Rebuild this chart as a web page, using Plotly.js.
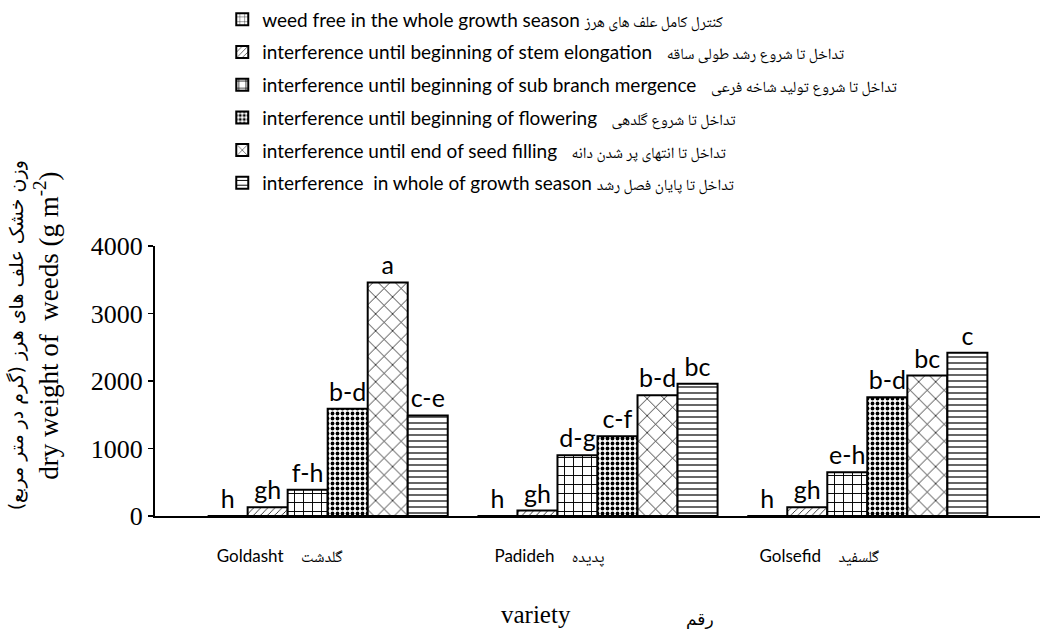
<!DOCTYPE html>
<html>
<head>
<meta charset="utf-8">
<script src="https://cdn.plot.ly/plotly-3.0.1.min.js"></script>
<style>html,body{margin:0;padding:0;background:#fff;}#chart{width:1056px;height:639px;}</style>
</head>
<body>
<div id="chart"></div>
<script>
const FA = (s, px) => '<span style="font-family:\'Noto Naskh Arabic\',\'Noto Sans Arabic\',\'DejaVu Sans Condensed\',\'DejaVu Sans\',sans-serif;font-size:' + px + 'px">' + s + '</span>';

const varietiesEn = ["Goldasht", "Padideh", "Golsefid"];
const varietiesFa = ["گلدشت", "پدیده", "گلسفید"];
const seriesEn = [
  "weed free in the whole growth season",
  "interference until beginning of stem elongation",
  "interference until beginning of sub branch mergence",
  "interference until beginning of flowering",
  "interference until end of seed filling",
  "interference  in whole of growth season"
];
const seriesFa = [
  "کنترل کامل علف های هرز",
  "تداخل تا شروع رشد طولی ساقه",
  "تداخل تا شروع تولید شاخه فرعی",
  "تداخل تا شروع گلدهی",
  "تداخل تا انتهای پر شدن دانه",
  "تداخل تا پایان فصل رشد"
];
const weedFree      = [0, 0, 0];
const stemElong     = [130, 80, 130];
const subBranch     = [390, 900, 650];
const flowering     = [1590, 1180, 1760];
const seedFilling   = [3460, 1790, 2080];
const wholeSeason   = [1490, 1960, 2420];
const letters = [
  ["h", "h", "h"],
  ["gh", "gh", "gh"],
  ["f-h", "d-g", "e-h"],
  ["b-d", "c-f", "b-d"],
  ["a", "b-d", "bc"],
  ["c-e", "bc", "c"]
];
const yTicks = [0, 1000, 2000, 3000, 4000];
const yTitleFa = "(وزن خشک علف های هرز (گرم در متر مربع";
const yTitleEn = "dry weight of  weeds (g m<sup>-2</sup>)";
const xTitleEn = "variety";
const xTitleFa = "رقم";

const varieties = varietiesEn.map((e, i) => e + "\u00a0\u00a0\u00a0\u00a0" + FA(varietiesFa[i], 16));
const seriesNames = seriesEn.map((e, i) => e + (i === 0 || i === 5 ? " " : "\u00a0\u00a0\u00a0") + FA(seriesFa[i], 15.5));

const values = [weedFree, stemElong, subBranch, flowering, seedFilling, wholeSeason];
const shapes = ["+", "/", "+", ".", "x", "-"];
const sizes = [6, 5, 9, 5, 12, 6];
const solids = [0.15, 0.15, 0.2, 0.45, 0.12, 0.2];

const traces = values.map((v, i) => ({
  type: "bar",
  name: seriesNames[i],
  legendgroup: "g" + i,
  x: varieties,
  y: v,
  text: letters[i],
  textposition: "outside",
  cliponaxis: false,
  textfont: {family: "Lato, sans-serif", size: 25, color: "#000"},
  marker: {
    color: "#fff",
    line: {color: "#000", width: 2},
    pattern: {shape: shapes[i], fgcolor: "#000", bgcolor: "#fff", size: sizes[i], solidity: solids[i]}
  },
  hoverinfo: "none"
}));

const layout = {
  width: 1056, height: 639,
  margin: {l: 155, r: 16, t: 235, b: 123},
  paper_bgcolor: "#fff", plot_bgcolor: "#fff",
  barmode: "group",
  bargap: 0.11,
  bargroupgap: 0,
  showlegend: true,
  legend: {
    x: 0.076, xanchor: "left", y: 1.865, yanchor: "top",
    font: {family: "Lato, 'DejaVu Sans', sans-serif", size: 19, color: "#000"},
    bgcolor: "rgba(0,0,0,0)",
    itemwidth: 30,
    tracegroupgap: 5,
    traceorder: "grouped"
  },
  xaxis: {
    range: [-0.64, 2.64],
    showline: true, linecolor: "#000", linewidth: 2,
    ticks: "", showgrid: false, zeroline: false,
    tickfont: {family: "Lato, 'DejaVu Sans', sans-serif", size: 17, color: "#000"},
    ticklabelstandoff: 24,
    ticklabelshift: -48
  },
  yaxis: {
    range: [0, 4000],
    tickvals: yTicks,
    ticktext: yTicks.map(String),
    showline: true, linecolor: "#000", linewidth: 2,
    ticks: "outside", ticklen: 5, tickwidth: 1.5, tickcolor: "#000",
    showgrid: false, zeroline: false,
    tickfont: {family: "'Liberation Serif', serif", size: 26, color: "#000"}
  },
  annotations: [
    {text: yTitleFa, xref: "paper", yref: "paper", x: (16 - 155) / 885, y: (516 - 328) / 281,
     xanchor: "center", yanchor: "middle", textangle: -90, showarrow: false,
     font: {family: "'DejaVu Sans', sans-serif", size: 19, color: "#000"}},
    {text: yTitleEn, xref: "paper", yref: "paper", x: (46 - 155) / 885, y: (516 - 318) / 281,
     xanchor: "center", yanchor: "middle", textangle: -90, showarrow: false,
     font: {family: "'Liberation Serif', serif", size: 27, color: "#000"}},
    {text: xTitleEn, xref: "paper", yref: "paper", x: (536 - 155) / 885, y: -(618 - 516) / 281,
     xanchor: "center", yanchor: "middle", showarrow: false,
     font: {family: "'Liberation Serif', serif", size: 25, color: "#000"}},
    {text: xTitleFa, xref: "paper", yref: "paper", x: (700 - 155) / 885, y: -(624 - 516) / 281,
     xanchor: "center", yanchor: "middle", showarrow: false,
     font: {family: "'DejaVu Sans', sans-serif", size: 17, color: "#000"}}
  ]
};

Plotly.newPlot("chart", traces, layout, {displayModeBar: false, staticPlot: true}).then(gd => {
  // Plotly keeps the legend inside the page; nudge it up to the reference's top row position.
  const leg = gd.querySelector(".legend");
  if (leg) {
    const t = leg.getAttribute("transform") || "";
    const m = t.match(/translate\(\s*([-\d.]+)[ ,]+([-\d.]+)\s*\)/);
    if (m) leg.setAttribute("transform", "translate(" + m[1] + "," + (parseFloat(m[2]) - 12) + ")");
  }
});
</script>
</body>
</html>
